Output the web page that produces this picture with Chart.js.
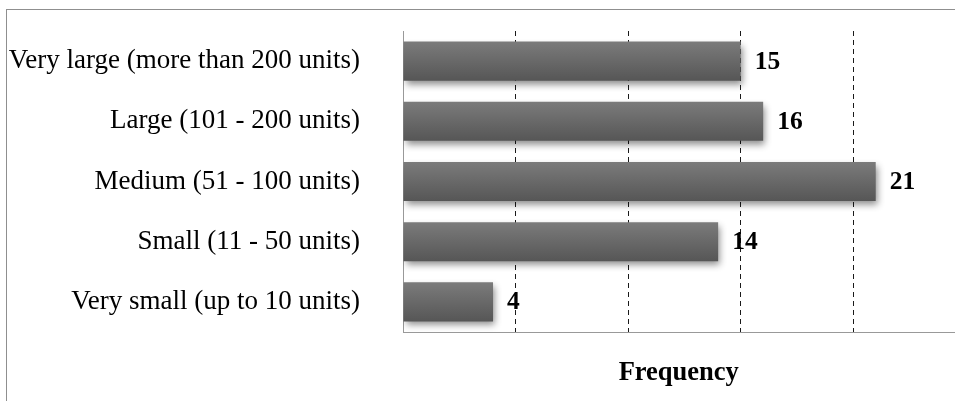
<!DOCTYPE html>
<html>
<head>
<meta charset="utf-8">
<script src="https://cdn.jsdelivr.net/npm/chart.js@4.4.1/dist/chart.umd.min.js"></script>
<style>
  html, body { margin: 0; padding: 0; width: 955px; height: 401px; overflow: hidden; background: #fff; }
  #frame { position: absolute; left: 6px; top: 9px; width: 1000px; height: 500px;
           border-left: 1px solid #8f8f8f; border-top: 1px solid #8f8f8f; }
  #wrap { position: absolute; left: 0; top: 0; width: 955px; height: 401px; }
</style>
</head>
<body>
<div id="frame"></div>
<div id="wrap"><canvas id="chart"></canvas></div>
<script>
// Farm size classes and how many respondents fall into each
const categories = [
  'Very large (more than 200 units)',
  'Large (101 - 200 units)',
  'Medium (51 - 100 units)',
  'Small (11 - 50 units)',
  'Very small (up to 10 units)'
];
const frequency = [15, 16, 21, 14, 4];
const axisTitle = 'Frequency';
const xMin = 0;
const xMax = 24.5;
const xStep = 5;

const serif = '"Liberation Serif", "Times New Roman", Times, serif';

// Vertical grey gradient for each bar, computed from the category scale
function barGradient(c) {
  const chart = c.chart;
  const y = chart.scales && chart.scales.y;
  if (!y || !chart.chartArea) return '#666';
  const band = y.height / categories.length;
  const thick = band * c.dataset.barPercentage;
  const mid = y.getPixelForValue(c.dataIndex);
  const g = chart.ctx.createLinearGradient(0, mid - thick / 2, 0, mid + thick / 2);
  g.addColorStop(0, '#7b7b7b');
  g.addColorStop(1, '#565656');
  return g;
}

// Soft drop shadow under the bars
const barShadow = {
  id: 'barShadow',
  beforeDatasetsDraw(chart) {
    const ctx = chart.ctx;
    ctx.save();
    ctx.shadowColor = 'rgba(0,0,0,0.45)';
    ctx.shadowBlur = 7;
    ctx.shadowOffsetX = 2;
    ctx.shadowOffsetY = 4;
  },
  afterDatasetsDraw(chart) {
    chart.ctx.restore();
  }
};

// Bold value printed just past the end of each bar
const valueLabels = {
  id: 'valueLabels',
  afterDatasetsDraw(chart) {
    const ctx = chart.ctx;
    const meta = chart.getDatasetMeta(0);
    ctx.save();
    ctx.font = 'bold 25.5px ' + serif;
    ctx.fillStyle = '#000';
    ctx.textAlign = 'left';
    ctx.textBaseline = 'middle';
    meta.data.forEach((bar, i) => {
      ctx.fillText(String(chart.data.datasets[0].data[i]), bar.x + 14, bar.y + 1);
    });
    ctx.restore();
  }
};

new Chart(document.getElementById('chart'), {
  type: 'bar',
  data: {
    labels: categories,
    datasets: [{
      data: frequency,
      backgroundColor: barGradient,
      borderWidth: 0,
      barPercentage: 0.65,
      categoryPercentage: 1
    }]
  },
  plugins: [barShadow, valueLabels],
  options: {
    indexAxis: 'y',
    responsive: true,
    maintainAspectRatio: false,
    animation: false,
    devicePixelRatio: 1,
    layout: { padding: { top: 31, left: 0, right: 0.5, bottom: 0 } },
    plugins: { legend: { display: false }, tooltip: { enabled: false } },
    scales: {
      x: {
        min: xMin,
        max: xMax,
        ticks: { display: false, stepSize: xStep },
        grid: {
          drawTicks: false,
          color: c => (c.tick && c.tick.value > xMin && c.tick.value % xStep === 0) ? '#1a1a1a' : 'rgba(0,0,0,0)',
          lineWidth: 1
        },
        border: { display: true, color: '#999', width: 1, dash: [5, 4], dashOffset: 0 },
        title: {
          display: true,
          text: axisTitle,
          color: '#000',
          font: { family: serif, size: 26.5, weight: 'bold' },
          padding: { top: 0, bottom: 12 }
        },
        afterFit(scale) { scale.height = 69; }
      },
      y: {
        ticks: {
          color: '#000',
          padding: 0,
          font: { family: serif, size: 27 }
        },
        grid: {
          display: true,
          drawOnChartArea: false,
          drawTicks: true,
          tickLength: 43,
          color: 'rgba(0,0,0,0)'
        },
        border: { display: true, color: '#999', width: 1 },
        afterFit(scale) { scale.width = 403; }
      }
    }
  }
});
</script>
</body>
</html>
